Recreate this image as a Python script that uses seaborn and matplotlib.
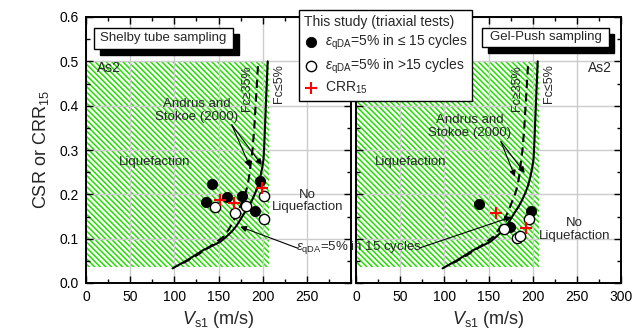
import matplotlib
matplotlib.use("Agg")
import matplotlib.pyplot as plt
import seaborn as sns
from matplotlib.patches import Rectangle
from matplotlib.ticker import MultipleLocator

# --- data ---
left_fill_vs = [136, 142.5, 160, 176.5, 191.5, 197]
left_fill_csr = [0.183, 0.223, 0.193, 0.197, 0.162, 0.230]
left_open_vs = [146, 168.5, 181, 201.5, 202]
left_open_csr = [0.172, 0.159, 0.174, 0.144, 0.196]
left_crr_vs = [152, 167.5, 199]
left_crr = [0.187, 0.180, 0.214]

right_fill_vs = [139, 174.5, 198]
right_fill_csr = [0.178, 0.127, 0.163]
right_open_vs = [167, 182, 186, 195.5]
right_open_csr = [0.121, 0.102, 0.106, 0.144]
right_crr_vs = [158, 193]
right_crr = [0.159, 0.123]

# Andrus and Stokoe (2000) curves
fc5_vs = [98, 115, 133, 143, 152, 158, 165, 170, 174.5, 179, 184, 188, 191.5,
          194.5, 197, 199.5, 201, 202, 203, 204, 205.7]
fc5_crr = [0.033, 0.052, 0.0745, 0.084, 0.093, 0.103, 0.116, 0.128, 0.142,
           0.157, 0.172, 0.187, 0.2025, 0.218, 0.236, 0.26, 0.28, 0.32, 0.37,
           0.42, 0.50]
fc35_vs = [110, 125, 136, 148, 156, 162, 167, 172, 176, 180, 183, 185, 186.5,
           188.5, 190.5, 192, 193.5, 195]
fc35_crr = [0.045, 0.062, 0.076, 0.093, 0.105, 0.122, 0.14, 0.16, 0.18, 0.2,
            0.22, 0.245, 0.27, 0.30, 0.35, 0.40, 0.45, 0.50]

zone_vs = [0, 207]
zone_csr = [0.035, 0.5]

sns.set_style("ticks")
plt.rcParams["font.family"] = ["Liberation Sans", "DejaVu Sans"]
plt.rcParams["mathtext.fontset"] = "custom"
plt.rcParams["mathtext.rm"] = "Liberation Sans"
plt.rcParams["mathtext.it"] = "Liberation Sans:italic"
plt.rcParams["hatch.linewidth"] = 1.1

fig = plt.figure(figsize=(6.42, 3.29), dpi=100)
W, H = 642, 329
ax1 = fig.add_axes([86 / W, 46 / H, 265 / W, 266 / H])
ax2 = fig.add_axes([356 / W, 46 / H, 265 / W, 266 / H])

GREEN = "#22dd00"


def draw_panel(ax, fill_vs, fill_csr, open_vs, open_csr, crr_vs, crr_vals):
    ax.add_patch(Rectangle((zone_vs[0], zone_csr[0]), zone_vs[1] - zone_vs[0],
                           zone_csr[1] - zone_csr[0], facecolor="white",
                           edgecolor=GREEN, hatch="\\" * 6, lw=0, zorder=0.3))
    sns.lineplot(x=fc5_vs, y=fc5_crr, ax=ax, sort=False, color="black", lw=1.5,
                 zorder=3)
    sns.lineplot(x=fc35_vs, y=fc35_crr, ax=ax, sort=False, color="black", lw=1.5,
                 linestyle=(0, (4, 2.5)), zorder=3)
    sns.scatterplot(x=fill_vs, y=fill_csr, ax=ax, color="black", s=55,
                    edgecolor="black", zorder=4,
                    label=r"$\varepsilon_{\rm qDA}$=5% in ≤ 15 cycles")
    sns.scatterplot(x=open_vs, y=open_csr, ax=ax, color="white", s=55,
                    edgecolor="black", linewidth=1, zorder=4,
                    label=r"$\varepsilon_{\rm qDA}$=5% in >15 cycles")
    sns.scatterplot(x=crr_vs, y=crr_vals, ax=ax, color="red", marker="+", s=80,
                    linewidth=1.5, zorder=5, label=r"CRR$_{15}$")

    ax.set_xlim(0, 300)
    ax.set_ylim(0, 0.6)
    ax.xaxis.set_major_locator(MultipleLocator(50))
    ax.xaxis.set_minor_locator(MultipleLocator(25))
    ax.yaxis.set_major_locator(MultipleLocator(0.1))
    ax.yaxis.set_minor_locator(MultipleLocator(0.05))
    ax.grid(True, which="major", color="#cccccc", lw=1)
    ax.tick_params(which="both", direction="in", top=True, right=True,
                   labelsize=10, width=1, colors="black", pad=5)
    ax.tick_params(which="major", length=5)
    ax.tick_params(which="minor", length=3)
    for sp in ax.spines.values():
        sp.set_linewidth(1.4)
        sp.set_color("black")
    ax.set_xlabel(r"$V_{\rm s1}$ (m/s)", fontsize=13, labelpad=4)
    ax.set_ylabel("")
    if ax.get_legend() is not None:
        ax.get_legend().remove()
    ax.text(182, 0.44, "Fc≥35%", rotation=90, ha="center", va="center",
            fontsize=9)
    ax.text(218, 0.45, "Fc≤5%", rotation=90, ha="center", va="center",
            fontsize=9)


draw_panel(ax1, left_fill_vs, left_fill_csr, left_open_vs, left_open_csr,
           left_crr_vs, left_crr)
draw_panel(ax2, right_fill_vs, right_fill_csr, right_open_vs, right_open_csr,
           right_crr_vs, right_crr)

ax1.set_ylabel(r"CSR or CRR$_{15}$", fontsize=13, labelpad=6)
ax1.set_xticks([0, 50, 100, 150, 200, 250])
ax2.set_xticks([0, 50, 100, 150, 200, 250, 300])
ax2.tick_params(labelleft=False)


def shadow_box(ax, x0, x1, y0, y1, text):
    dx, dy = 6.5, 0.014
    ax.add_patch(Rectangle((x0 + dx, y0 - dy), x1 - x0, y1 - y0,
                           facecolor="black", edgecolor="black", zorder=6,
                           clip_on=False))
    ax.add_patch(Rectangle((x0, y0), x1 - x0, y1 - y0, facecolor="white",
                           edgecolor="black", lw=1, zorder=7, clip_on=False))
    ax.text((x0 + x1) / 2, (y0 + y1) / 2, text, ha="center", va="center",
            fontsize=9.5, zorder=8)


shadow_box(ax1, 9, 166.5, 0.528, 0.576, "Shelby tube sampling")
shadow_box(ax2, 143, 286, 0.533, 0.576, "Gel-Push sampling")

# left panel labels
ax1.text(12, 0.5, "As2", ha="left", va="top", fontsize=10)
ax1.text(78, 0.273, "Liquefaction", ha="center", va="center", fontsize=9.5)
ax1.text(251, 0.185, "No\nLiquefaction", ha="center", va="center",
         fontsize=9.5, linespacing=1.1)
ax1.text(125, 0.39, "Andrus and\nStokoe (2000)", ha="center", va="center",
         fontsize=9.5, linespacing=1.1)
arr = dict(arrowstyle="-|>", color="black", lw=0.8, mutation_scale=9,
           shrinkA=0, shrinkB=0)
for tgt in [(185.7, 0.262), (199, 0.266)]:
    ax1.annotate("", xy=tgt, xytext=(165, 0.357), arrowprops=arr, zorder=6)
ax1.annotate("", xy=(174.6, 0.127), xytext=(239, 0.079), arrowprops=arr,
             zorder=6, annotation_clip=False)

# right panel labels
ax2.text(290, 0.5, "As2", ha="right", va="top", fontsize=10)
ax2.text(62, 0.272, "Liquefaction", ha="center", va="center", fontsize=9.5)
ax2.text(247, 0.12, "No\nLiquefaction", ha="center", va="center",
         fontsize=9.5, linespacing=1.1)
ax2.text(128.5, 0.354, "Andrus and\nStokoe (2000)", ha="center", va="center",
         fontsize=9.5, linespacing=1.1)
for tgt in [(180, 0.24), (191, 0.248)]:
    ax2.annotate("", xy=tgt, xytext=(164, 0.319), arrowprops=arr, zorder=6)
ax2.annotate("", xy=(176, 0.149), xytext=(72, 0.079), arrowprops=arr,
             zorder=6)

fig.text(296.5 / W, 1 - 248 / H, r"$\varepsilon_{\rm qDA}$=5% in 15 cycles",
         ha="left", va="center", fontsize=9.5, zorder=10)

handles, labels = ax1.get_legend_handles_labels()
leg = fig.legend(handles, labels, title="This study (triaxial tests)",
                 loc="upper left", bbox_to_anchor=(299 / W, 1 - 10 / H),
                 borderaxespad=0, fontsize=10, title_fontsize=10,
                 frameon=True, fancybox=False, edgecolor="black",
                 framealpha=1, borderpad=0.35, handletextpad=0.5,
                 labelspacing=0.3, handlelength=1.0)
leg._legend_box.align = "left"
leg.get_frame().set_linewidth(1)

fig.savefig("out.png", dpi=100)
